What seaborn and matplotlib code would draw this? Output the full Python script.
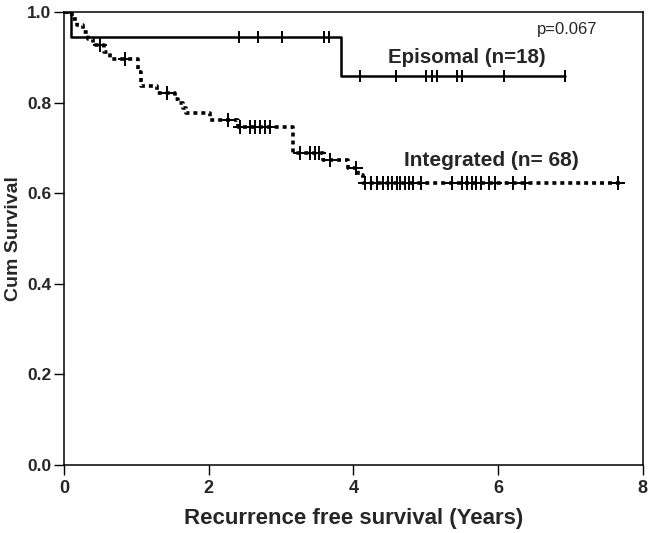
import numpy as np
import pandas as pd
import matplotlib
matplotlib.use('Agg')
import matplotlib.pyplot as plt
import seaborn as sns

# Kaplan-Meier steps (years, survival after the step)
epi_time = [0, 0.10, 3.83, 6.92]
epi_surv = [1.0, 0.944, 0.859, 0.859]
epi_cens = [2.42, 2.68, 3.01, 3.59, 3.66, 4.09, 4.59, 5.01, 5.08, 5.15,
            5.43, 5.50, 6.08, 6.92]

int_time = [0, 0.11, 0.18, 0.26, 0.33, 0.40, 0.55, 0.64, 1.02, 1.07, 1.28,
            1.53, 1.58, 1.65, 1.69, 2.02, 2.40, 3.17, 3.58, 3.93, 4.07, 4.13, 7.68]
int_surv = [1.0, 0.985, 0.971, 0.956, 0.941, 0.926, 0.912, 0.897, 0.867, 0.837,
            0.822, 0.808, 0.798, 0.787, 0.777, 0.762, 0.745, 0.688, 0.673, 0.655,
            0.640, 0.623, 0.623]
int_cens = [0.50, 0.84, 1.42, 2.27, 2.43, 2.57, 2.64, 2.71, 2.78, 2.85, 3.26,
            3.40, 3.47, 3.52, 3.67, 4.03, 4.16, 4.24, 4.32, 4.41, 4.48, 4.54,
            4.60, 4.65, 4.71, 4.77, 4.83, 4.94, 5.36, 5.50, 5.57, 5.64, 5.70,
            5.77, 5.88, 5.95, 6.20, 6.37, 7.65]


def level_at(times, surv, t):
    idx = np.searchsorted(times, t, side='right') - 1
    return surv[idx]


epi = pd.DataFrame({'time': epi_time, 'surv': epi_surv})
intg = pd.DataFrame({'time': int_time, 'surv': int_surv})
epi_c = pd.DataFrame({'time': epi_cens,
                      'surv': [level_at(epi_time, epi_surv, t) for t in epi_cens]})
int_c = pd.DataFrame({'time': int_cens,
                      'surv': [level_at(int_time, int_surv, t) for t in int_cens]})

sns.set_style('ticks')
plt.rcParams['font.family'] = ['Liberation Sans', 'DejaVu Sans']

fig = plt.figure(figsize=(6.52, 5.33), dpi=100)
ax = fig.add_axes([0.098, 0.1276, 0.888, 0.85])

sns.lineplot(data=epi, x='time', y='surv', ax=ax, color='black', lw=1.8,
             drawstyle='steps-post', estimator=None, sort=False)
sns.lineplot(data=intg, x='time', y='surv', ax=ax, color='black', lw=2.6,
             drawstyle='steps-post', estimator=None, sort=False,
             linestyle=(0, (1.1, 1.1)), dash_capstyle='butt')
sns.scatterplot(data=epi_c, x='time', y='surv', ax=ax, marker='|', s=80,
                color='black', linewidth=1.4)
sns.scatterplot(data=int_c, x='time', y='surv', ax=ax, marker='+', s=90,
                color='black', linewidth=1.4)

ax.text(6.96, 0.962, 'p=0.067', fontsize=12, ha='center', va='center')
ax.text(5.57, 0.90, 'Episomal (n=18)', fontsize=14.8, fontweight='bold',
        ha='center', va='center')
ax.text(5.90, 0.673, 'Integrated (n= 68)', fontsize=15, fontweight='bold',
        ha='center', va='center')

ax.set_xlim(0, 8)
ax.set_ylim(0, 1.0)
ax.set_xticks([0, 2, 4, 6, 8])
ax.set_yticks([0.0, 0.2, 0.4, 0.6, 0.8, 1.0])
ax.set_yticklabels(['0.0', '0.2', '0.4', '0.6', '0.8', '1.0'])
ax.tick_params(length=7, width=1, labelsize=12.5, color='black', pad=2)
ax.tick_params(axis='x', labelsize=13, pad=4)
for lab in ax.get_xticklabels() + ax.get_yticklabels():
    lab.set_fontweight('bold')
for sp in ax.spines.values():
    sp.set_visible(True)
    sp.set_color('black')
    sp.set_linewidth(1.1)

ax.set_xlabel('Recurrence free survival (Years)', fontsize=16,
              fontweight='bold', labelpad=8)
ax.set_ylabel('Cum Survival', fontsize=14, fontweight='bold', labelpad=4)

fig.savefig('out.png', dpi=100)
